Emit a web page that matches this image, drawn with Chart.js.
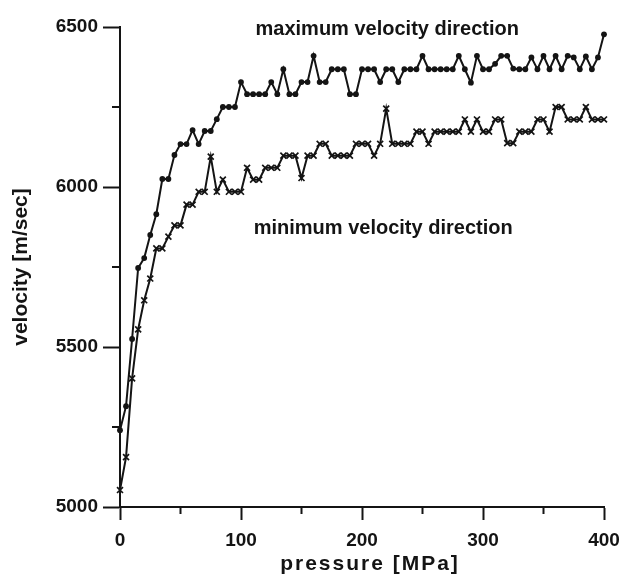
<!DOCTYPE html>
<html>
<head>
<meta charset="utf-8">
<script src="https://cdn.jsdelivr.net/npm/chart.js@4/dist/chart.umd.min.js"></script>
<style>
html,body{margin:0;padding:0;background:#fff;}
#wrap{width:621px;height:574px;position:relative;}
canvas{display:block;}
</style>
</head>
<body>
<div id="wrap"><canvas id="c" width="621" height="574"></canvas></div>
<script>
// ---- data ----
const pressure = [
  0, 5, 10, 15, 20, 25, 30, 35, 40, 45,
  50, 55, 60, 65, 70, 75, 80, 85, 90, 95,
  100, 105, 110, 115, 120, 125, 130, 135, 140, 145,
  150, 155, 160, 165, 170, 175, 180, 185, 190, 195,
  200, 205, 210, 215, 220, 225, 230, 235, 240, 245,
  250, 255, 260, 265, 270, 275, 280, 285, 290, 295,
  300, 305, 310, 315, 320, 325, 330, 335, 340, 345,
  350, 355, 360, 365, 370, 375, 380, 385, 390, 395,
  400
];
const maxVelocity = [
  5240, 5315, 5525, 5747, 5778, 5850, 5915, 6025, 6025, 6100,
  6134, 6134, 6178, 6134, 6175, 6175, 6212, 6250, 6250, 6250,
  6328, 6290, 6290, 6290, 6290, 6328, 6290, 6368, 6290, 6290,
  6328, 6328, 6410, 6328, 6328, 6368, 6368, 6368, 6290, 6290,
  6368, 6368, 6368, 6328, 6368, 6368, 6328, 6368, 6368, 6368,
  6410, 6368, 6368, 6368, 6368, 6368, 6410, 6368, 6326, 6410,
  6368, 6368, 6385, 6410, 6410, 6370, 6368, 6368, 6405, 6368,
  6410, 6368, 6410, 6368, 6410, 6405, 6368, 6408, 6368, 6405,
  6477
];
const minVelocity = [
  5053, 5156, 5402, 5555, 5646, 5714, 5808, 5808, 5845, 5880,
  5880, 5945, 5945, 5985, 5985, 6095, 5985, 6023, 5985, 5985,
  5985, 6060, 6023, 6023, 6060, 6060, 6060, 6098, 6098, 6098,
  6028, 6098, 6098, 6135, 6135, 6098, 6098, 6098, 6098, 6135,
  6135, 6135, 6098, 6135, 6245, 6135, 6135, 6135, 6135, 6173,
  6173, 6135, 6173, 6173, 6173, 6173, 6173, 6211, 6173, 6211,
  6173, 6173, 6211, 6211, 6137, 6137, 6173, 6173, 6173, 6211,
  6211, 6173, 6250, 6250, 6211, 6211, 6211, 6250, 6211, 6211,
  6211
];
const seriesNames = ['maximum velocity direction', 'minimum velocity direction'];
const xTickLabels = [0, 100, 200, 300, 400];
const yTickLabels = [5000, 5500, 6000, 6500];
const xTitle = 'pressure [MPa]';
const yTitle = 'velocity [m/sec]';

// ---- chart ----
const FONT = '"Liberation Sans", Arial, Helvetica, sans-serif';
const INK = '#141414';
Chart.defaults.font.family = FONT;
Chart.defaults.color = INK;

const toPoints = (xs, ys) => xs.map((x, i) => ({x: x, y: ys[i]}));

// text labels placed inside the plot, anchored in data coordinates
const labelAnchors = [
  {text: seriesNames[0], x: 112, y: 6474},
  {text: seriesNames[1], x: 110.5, y: 5853}
];

const extrasPlugin = {
  id: 'extras',
  afterLayout(chart) {
    // widen the letter spacing of the x-axis title, as in the original print
    const xs = chart.scales.x;
    if (xs && !xs._spacedTitle) {
      const orig = xs.drawTitle.bind(xs);
      xs.drawTitle = function () {
        const ctx = this.ctx;
        ctx.save();
        ctx.letterSpacing = '2px';
        ctx.translate(8, 0);
        orig();
        ctx.restore();
      };
      xs._spacedTitle = true;
    }
  },
  afterDraw(chart) {
    const {ctx} = chart;
    const xs = chart.scales.x, ys = chart.scales.y;
    ctx.save();
    // minor ticks
    ctx.strokeStyle = INK;
    ctx.lineWidth = 2;
    ctx.beginPath();
    xs.ticks.forEach(t => {
      if (!xTickLabels.includes(t.value)) {
        const px = xs.getPixelForValue(t.value);
        ctx.moveTo(px, xs.top);
        ctx.lineTo(px, xs.top + 7);
      }
    });
    ys.ticks.forEach(t => {
      if (!yTickLabels.includes(t.value)) {
        const py = ys.getPixelForValue(t.value);
        ctx.moveTo(ys.right, py);
        ctx.lineTo(ys.right - 8, py);
      }
    });
    ctx.stroke();
    // in-plot labels
    ctx.font = 'bold 20px ' + FONT;
    ctx.fillStyle = INK;
    ctx.textAlign = 'left';
    ctx.textBaseline = 'alphabetic';
    labelAnchors.forEach(a => {
      ctx.fillText(a.text, xs.getPixelForValue(a.x), ys.getPixelForValue(a.y));
    });
    ctx.restore();
  }
};

new Chart(document.getElementById('c'), {
  type: 'line',
  data: {
    datasets: [
      {
        label: seriesNames[0],
        data: toPoints(pressure, maxVelocity),
        borderColor: INK,
        backgroundColor: INK,
        borderWidth: 2,
        pointStyle: 'circle',
        pointRadius: 2.9,
        pointBorderWidth: 0,
        pointBackgroundColor: INK,
        tension: 0,
        clip: false
      },
      {
        label: seriesNames[1],
        data: toPoints(pressure, minVelocity),
        borderColor: INK,
        backgroundColor: INK,
        borderWidth: 2,
        pointStyle: 'crossRot',
        pointRadius: 4.2,
        pointBorderWidth: 1.7,
        pointBorderColor: INK,
        tension: 0,
        clip: false
      }
    ]
  },
  options: {
    responsive: false,
    animation: false,
    devicePixelRatio: 1,
    layout: {padding: {top: 27, right: 17, left: 0, bottom: 0}},
    plugins: {legend: {display: false}, tooltip: {enabled: false}},
    scales: {
      x: {
        type: 'linear',
        min: 0, max: 400,
        afterFit(scale) {
          scale.height = 67;
          scale.paddingLeft = 0;
          scale.paddingRight = 0;
        },
        ticks: {
          stepSize: 50,
          autoSkip: false,
          maxRotation: 0,
          padding: 9,
          font: {size: 19, weight: 'bold'},
          color: INK,
          callback: v => xTickLabels.includes(v) ? String(v) : ''
        },
        grid: {
          drawOnChartArea: false,
          drawTicks: true,
          tickLength: 13,
          tickWidth: 2,
          tickColor: c => (c.tick && xTickLabels.includes(c.tick.value)) ? INK : 'rgba(0,0,0,0)'
        },
        border: {display: true, color: INK, width: 2},
        title: {
          display: true,
          text: xTitle,
          font: {size: 21, weight: 'bold', lineHeight: 0.95},
          color: INK,
          padding: {top: 0, bottom: 0}
        }
      },
      y: {
        type: 'linear',
        min: 5000, max: 6500,
        afterFit(scale) { scale.width = 120; },
        ticks: {
          stepSize: 250,
          autoSkip: false,
          padding: 5,
          font: {size: 19, weight: 'bold'},
          color: INK,
          callback: v => yTickLabels.includes(v) ? String(v) : ''
        },
        grid: {
          drawOnChartArea: false,
          drawTicks: true,
          tickLength: 17,
          tickWidth: 2,
          tickColor: c => (c.tick && yTickLabels.includes(c.tick.value)) ? INK : 'rgba(0,0,0,0)'
        },
        border: {display: true, color: INK, width: 2},
        title: {
          display: true,
          text: yTitle,
          font: {size: 21, weight: 'bold'},
          color: INK,
          padding: {top: 9, bottom: 0}
        }
      }
    }
  },
  plugins: [extrasPlugin]
});
</script>
</body>
</html>
